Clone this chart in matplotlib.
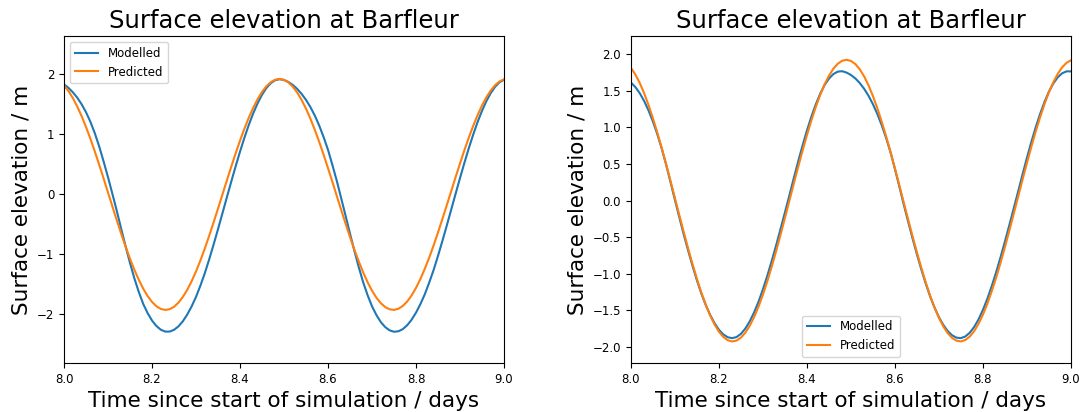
#!/usr/bin/env python3
"""
Surface elevation at Barfleur: modelled vs predicted tide, two model runs side by side
"""

import numpy as np
import matplotlib
matplotlib.use('Agg')
import matplotlib.pyplot as plt

# 时间轴 (days), 0.01 day 间隔
TIME_START = 8.0
TIME_STEP = 0.01
N_POINTS = 101

# 预报潮位 (两个子图相同)
predicted = [
    1.815, 1.724, 1.607, 1.467, 1.305, 1.124, 0.927, 0.716, 0.494, 0.265,
    0.032, -0.201, -0.432, -0.656, -0.870, -1.072, -1.258, -1.424, -1.571, -1.694,
    -1.792, -1.864, -1.909, -1.925, -1.913, -1.873, -1.805, -1.710, -1.591, -1.448,
    -1.284, -1.100, -0.901, -0.688, -0.465, -0.236, -0.003, 0.231, 0.460, 0.683,
    0.896, 1.096, 1.280, 1.444, 1.588, 1.708, 1.803, 1.871, 1.912, 1.925,
    1.909, 1.866, 1.795, 1.697, 1.574, 1.428, 1.262, 1.076, 0.875, 0.661,
    0.437, 0.207, -0.027, -0.260, -0.489, -0.711, -0.922, -1.120, -1.302, -1.464,
    -1.604, -1.722, -1.813, -1.878, -1.915, -1.925, -1.905, -1.858, -1.784, -1.683,
    -1.557, -1.409, -1.238, -1.052, -0.849, -0.633, -0.408, -0.177, 0.056, 0.289,
    0.517, 0.738, 0.948, 1.143, 1.323, 1.483, 1.620, 1.734, 1.823, 1.884,
    1.918,
]

# 左图: 模型结果
modelled_left = [
    1.834, 1.776, 1.703, 1.613, 1.503, 1.370, 1.210, 1.020, 0.799, 0.549,
    0.287, 0.008, -0.275, -0.575, -0.866, -1.143, -1.401, -1.627, -1.825, -1.978,
    -2.102, -2.193, -2.255, -2.286, -2.286, -2.257, -2.200, -2.115, -2.003, -1.867,
    -1.708, -1.520, -1.313, -1.081, -0.835, -0.579, -0.316, -0.052, 0.211, 0.467,
    0.713, 0.945, 1.159, 1.351, 1.519, 1.661, 1.774, 1.855, 1.904, 1.920,
    1.907, 1.874, 1.824, 1.758, 1.675, 1.575, 1.455, 1.313, 1.147, 0.955,
    0.742, 0.489, 0.224, -0.066, -0.358, -0.655, -0.943, -1.216, -1.467, -1.680,
    -1.865, -2.011, -2.128, -2.212, -2.266, -2.289, -2.281, -2.245, -2.180, -2.088,
    -1.970, -1.827, -1.663, -1.469, -1.259, -1.023, -0.774, -0.516, -0.252, 0.012,
    0.274, 0.528, 0.771, 0.998, 1.208, 1.394, 1.557, 1.691, 1.796, 1.870,
    1.911,
]

# 右图: 模型结果
modelled_right = [
    1.614, 1.552, 1.468, 1.361, 1.232, 1.080, 0.906, 0.710, 0.490, 0.251,
    0.007, -0.230, -0.464, -0.684, -0.894, -1.091, -1.271, -1.427, -1.563, -1.676,
    -1.766, -1.830, -1.868, -1.880, -1.865, -1.821, -1.749, -1.650, -1.527, -1.380,
    -1.212, -1.025, -0.824, -0.610, -0.387, -0.160, 0.070, 0.305, 0.534, 0.753,
    0.959, 1.147, 1.315, 1.460, 1.579, 1.668, 1.730, 1.763, 1.769, 1.750,
    1.717, 1.670, 1.607, 1.528, 1.432, 1.317, 1.183, 1.029, 0.855, 0.659,
    0.430, 0.190, -0.055, -0.288, -0.518, -0.736, -0.943, -1.136, -1.311, -1.463,
    -1.594, -1.701, -1.784, -1.842, -1.874, -1.879, -1.857, -1.806, -1.727, -1.623,
    -1.493, -1.341, -1.168, -0.978, -0.773, -0.557, -0.333, -0.104, 0.125, 0.360,
    0.587, 0.803, 1.005, 1.188, 1.351, 1.491, 1.603, 1.686, 1.741, 1.767,
    1.766,
]

x_ticks = [8.0, 8.2, 8.4, 8.6, 8.8, 9.0]


def draw_panel(ax, t, modelled, ylim, legend_loc):
    ax.plot(t, modelled, color='#1f77b4', linewidth=1.5, label='Modelled')
    ax.plot(t, predicted, color='#ff7f0e', linewidth=1.5, label='Predicted')

    ax.set_xlim(8.0, 9.0)
    ax.set_ylim(*ylim)
    ax.set_xticks(x_ticks)
    ax.tick_params(labelsize=8.5)

    ax.set_title('Surface elevation at Barfleur', fontsize=17.5)
    ax.set_xlabel('Time since start of simulation / days', fontsize=15.5)
    ax.set_ylabel('Surface elevation / m', fontsize=15.5)
    ax.legend(loc=legend_loc, fontsize=8.5)


def main():
    t = TIME_START + TIME_STEP * np.arange(N_POINTS)

    fig = plt.figure(figsize=(10.83, 4.12), dpi=100)
    ax1 = fig.add_axes([0.0591, 0.1189, 0.4063, 0.7937])
    ax2 = fig.add_axes([0.5826, 0.1189, 0.4063, 0.7937])

    draw_panel(ax1, t, modelled_left, (-2.81, 2.64), 'upper left')
    draw_panel(ax2, t, modelled_right, (-2.22, 2.25), 'lower center')

    fig.savefig('out.png', dpi=100)
    plt.close(fig)


if __name__ == '__main__':
    main()
